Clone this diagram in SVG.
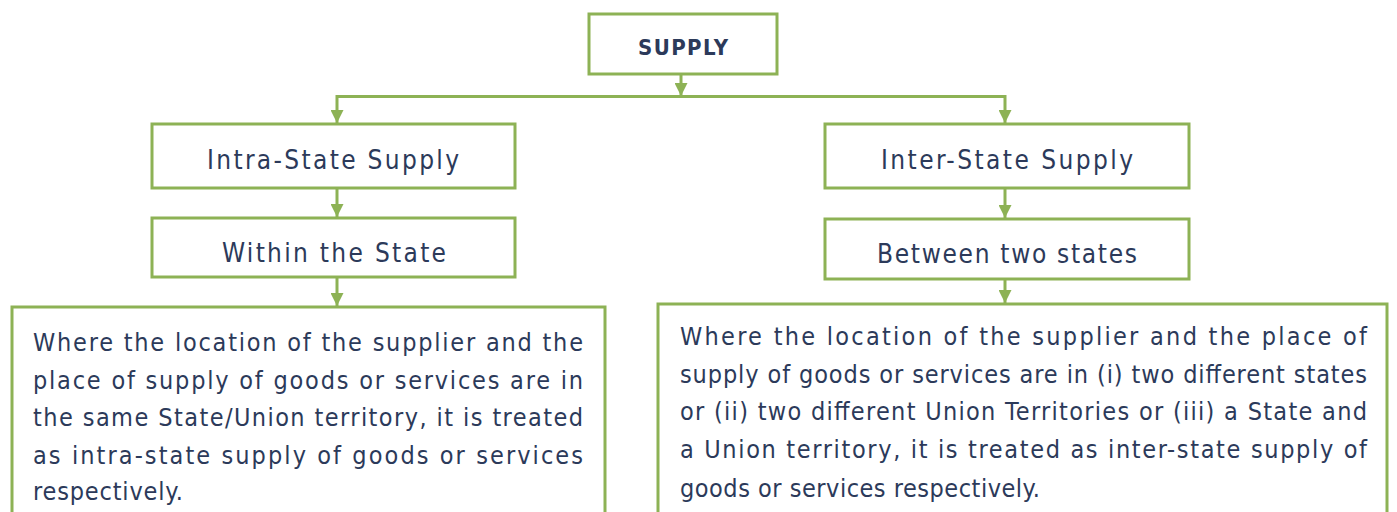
<svg xmlns="http://www.w3.org/2000/svg" width="1397" height="512" viewBox="0 0 1397 512">
<defs>
<marker id="ah" viewBox="0 0 10 10" refX="10" refY="5" markerWidth="13" markerHeight="13" markerUnits="userSpaceOnUse" orient="auto">
<path d="M0,0 L10,5 L0,10 z" fill="#8db255"/>
</marker>
<style>
.box{fill:#ffffff;stroke:#8db255;stroke-width:3}
.lbl{font-family:"DejaVu Sans Condensed","DejaVu Sans",sans-serif;font-size:26px;fill:#2c3a5a;text-anchor:middle}
.body{font-family:"DejaVu Sans Condensed","DejaVu Sans",sans-serif;font-size:25px;fill:#2c3a5a}
.con{fill:none;stroke:#8db255;stroke-width:3}
</style>
</defs>
<rect width="1397" height="512" fill="#ffffff"/>
<g id="connectors">
<path class="con" d="M681,74 V96" marker-end="url(#ah)"/>
<path class="con" d="M681,96.5 H337 V123" marker-end="url(#ah)"/>
<path class="con" d="M681,96.5 H1005 V123" marker-end="url(#ah)"/>
<path class="con" d="M337,188 V217" marker-end="url(#ah)"/>
<path class="con" d="M337,277 V306" marker-end="url(#ah)"/>
<path class="con" d="M1005,188 V218" marker-end="url(#ah)"/>
<path class="con" d="M1005,279 V303" marker-end="url(#ah)"/>
</g>
<g id="supply">
<rect class="box" x="589" y="14" width="188" height="60"/>
<text class="lbl" x="683" y="55" textLength="90" lengthAdjust="spacing" style="font-size:22px;font-weight:600">SUPPLY</text>
</g>
<g id="intra">
<rect class="box" x="152" y="124" width="363" height="64"/>
<text class="lbl" x="333" y="169" textLength="252" lengthAdjust="spacing">Intra-State Supply</text>
</g>
<g id="within">
<rect class="box" x="152" y="218" width="363" height="59"/>
<text class="lbl" x="334" y="262" textLength="224" lengthAdjust="spacing">Within the State</text>
</g>
<g id="intra-def">
<rect class="box" x="12" y="307" width="593" height="215"/>
<text class="body" x="33" y="351" textLength="550" lengthAdjust="spacing">Where the location of the supplier and the</text>
<text class="body" x="33" y="389" textLength="550" lengthAdjust="spacing">place of supply of goods or services are in</text>
<text class="body" x="33" y="426" textLength="550" lengthAdjust="spacing">the same State/Union territory, it is treated</text>
<text class="body" x="33" y="464" textLength="550" lengthAdjust="spacing">as intra-state supply of goods or services</text>
<text class="body" x="33" y="500" textLength="150" lengthAdjust="spacing">respectively.</text>
</g>
<g id="inter">
<rect class="box" x="825" y="124" width="364" height="64"/>
<text class="lbl" x="1007" y="169" textLength="252" lengthAdjust="spacing">Inter-State Supply</text>
</g>
<g id="between">
<rect class="box" x="825" y="219" width="364" height="60"/>
<text class="lbl" x="1007" y="263" textLength="260" lengthAdjust="spacing">Between two states</text>
</g>
<g id="inter-def">
<rect class="box" x="658" y="304" width="729" height="218"/>
<text class="body" x="680" y="345" textLength="687" lengthAdjust="spacing">Where the location of the supplier and the place of</text>
<text class="body" x="680" y="383" textLength="687" lengthAdjust="spacing">supply of goods or services are in (i) two different states</text>
<text class="body" x="680" y="420" textLength="687" lengthAdjust="spacing">or (ii) two different Union Territories or (iii) a State and</text>
<text class="body" x="680" y="458" textLength="687" lengthAdjust="spacing">a Union territory, it is treated as inter-state supply of</text>
<text class="body" x="680" y="497" textLength="360" lengthAdjust="spacing">goods or services respectively.</text>
</g>
</svg>
